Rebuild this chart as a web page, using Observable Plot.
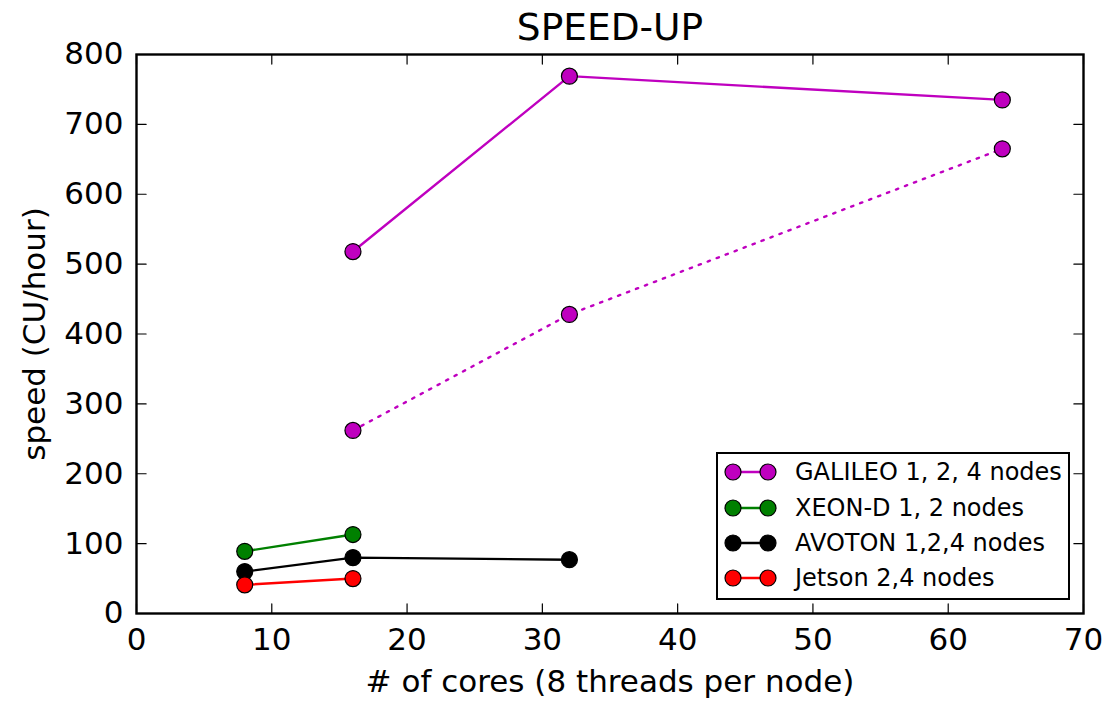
<!DOCTYPE html>
<html>
<head>
<meta charset="utf-8">
<script src="https://cdn.jsdelivr.net/npm/d3@7"></script>
<script src="https://cdn.jsdelivr.net/npm/@observablehq/plot@0.6"></script>
<style>
  html, body { margin: 0; padding: 0; background: #fff; }
  #wrap { position: relative; width: 1102px; height: 701px; font-family: "DejaVu Sans", sans-serif; }
  #legend { position: absolute; left: 716px; top: 452px; width: 350px; height: 144px; border: 2.4px solid #000; background: #fff; box-sizing: content-box; }
  .lg-row { position: absolute; left: 0; height: 28px; }
  .lg-row svg { position: absolute; left: 4px; top: 4px; }
  .lg-row span { position: absolute; left: 77px; top: 0; font-size: 24px; line-height: 28px; white-space: nowrap; color: #000; }
</style>
</head>
<body>
<div id="wrap"></div>
<script>
// ---- data ----
const seriesNames = ["GALILEO", "GALILEO dotted", "XEON-D", "AVOTON", "Jetson"];
const seriesColors = ["#bf00bf", "#bf00bf", "#008000", "#000000", "#ff0000"];
const legendLabels = ["GALILEO 1, 2, 4 nodes", "XEON-D 1, 2 nodes", "AVOTON 1,2,4 nodes", "Jetson 2,4 nodes"];
const legendColors = ["#bf00bf", "#008000", "#000000", "#ff0000"];

const galileoCores = [16, 32, 64];
const galileoSpeed = [518, 769, 735];
const galileoDottedCores = [16, 32, 64];
const galileoDottedSpeed = [262, 428, 665];
const xeonCores = [8, 16];
const xeonSpeed = [89, 113];
const avotonCores = [8, 16, 32];
const avotonSpeed = [60, 80, 77];
const jetsonCores = [8, 16];
const jetsonSpeed = [41, 50];

const xTicks = [0, 10, 20, 30, 40, 50, 60, 70];
const yTicks = [0, 100, 200, 300, 400, 500, 600, 700, 800];

const title = "SPEED-UP";
const xLabel = "# of cores (8 threads per node)";
const yLabel = "speed (CU/hour)";

// ---- build table ----
const seriesData = [
  [seriesNames[0], galileoCores, galileoSpeed],
  [seriesNames[1], galileoDottedCores, galileoDottedSpeed],
  [seriesNames[2], xeonCores, xeonSpeed],
  [seriesNames[3], avotonCores, avotonSpeed],
  [seriesNames[4], jetsonCores, jetsonSpeed]
];
const rows = seriesData.flatMap(([s, xs, ys]) => xs.map((x, i) => ({series: s, x, y: ys[i]})));
const solidRows = rows.filter(d => d.series !== "GALILEO dotted");
const dottedRows = rows.filter(d => d.series === "GALILEO dotted");

const tickShape = {draw(context, l) { context.moveTo(0, 0); context.lineTo(0, -l); }};
const tickOpts = {length: 9.6, anchor: "start", shape: tickShape, stroke: "#000", strokeWidth: 1.2};
const font = "DejaVu Sans";
const labelSize = 31;

const chart = Plot.plot({
  width: 1102,
  height: 701,
  marginLeft: 136,
  marginRight: 19,
  marginTop: 54,
  marginBottom: 88,
  style: {fontFamily: font, background: "#fff", overflow: "visible"},
  x: {domain: [0, 70], ticks: xTicks},
  y: {domain: [0, 800], ticks: yTicks},
  color: {domain: seriesNames, range: seriesColors},
  marks: [
    Plot.line(solidRows, {x: "x", y: "y", z: "series", stroke: "series", strokeWidth: 2.4}),
    Plot.line(dottedRows, {x: "x", y: "y", z: "series", stroke: "series", strokeWidth: 2.4, strokeDasharray: "2.4,7.2"}),
    Plot.dot(rows, {x: "x", y: "y", fill: "series", stroke: "#000", strokeWidth: 1.2, r: 8}),
    // inward ticks on all four sides
    Plot.vector(xTicks, {x: d => d, y: () => 0, rotate: 0, ...tickOpts}),
    Plot.vector(xTicks, {x: d => d, y: () => 800, rotate: 180, ...tickOpts}),
    Plot.vector(yTicks, {y: d => d, x: () => 0, rotate: 90, ...tickOpts}),
    Plot.vector(yTicks, {y: d => d, x: () => 70, rotate: -90, ...tickOpts}),
    Plot.axisX(xTicks, {tickSize: 0, tickPadding: 14, fontSize: labelSize, label: null, fill: "#000"}),
    Plot.axisY(yTicks, {tickSize: 0, tickPadding: 13, fontSize: labelSize, label: null, fill: "#000"}),
    Plot.frame({stroke: "#000", strokeWidth: 2.4}),
    Plot.text([title], {text: d => d, frameAnchor: "top", textAnchor: "middle", lineAnchor: "bottom", dy: -15, fontSize: 37.5, fill: "#000"}),
    Plot.text([xLabel], {text: d => d, frameAnchor: "bottom", textAnchor: "middle", lineAnchor: "bottom", dy: 78, fontSize: labelSize, fill: "#000"}),
    Plot.text([yLabel], {text: d => d, frameAnchor: "left", textAnchor: "middle", lineAnchor: "middle", rotate: -90, dx: -101, fontSize: labelSize, fill: "#000"})
  ]
});

const wrap = document.getElementById("wrap");
wrap.appendChild(chart);

// ---- legend ----
const legend = document.createElement("div");
legend.id = "legend";
const rowCenters = [18, 54, 89, 124];
legendLabels.forEach((lab, i) => {
  const row = document.createElement("div");
  row.className = "lg-row";
  row.style.top = (rowCenters[i] - 14) + "px";
  const c = legendColors[i];
  row.innerHTML = `<svg width="60" height="20" viewBox="0 0 60 20">
      <line x1="11" y1="10" x2="46" y2="10" stroke="${c}" stroke-width="2.4"/>
      <circle cx="11" cy="10" r="8" fill="${c}" stroke="#000" stroke-width="1.2"/>
      <circle cx="46" cy="10" r="8" fill="${c}" stroke="#000" stroke-width="1.2"/>
    </svg><span>${lab}</span>`;
  legend.appendChild(row);
});
wrap.appendChild(legend);
</script>
</body>
</html>
